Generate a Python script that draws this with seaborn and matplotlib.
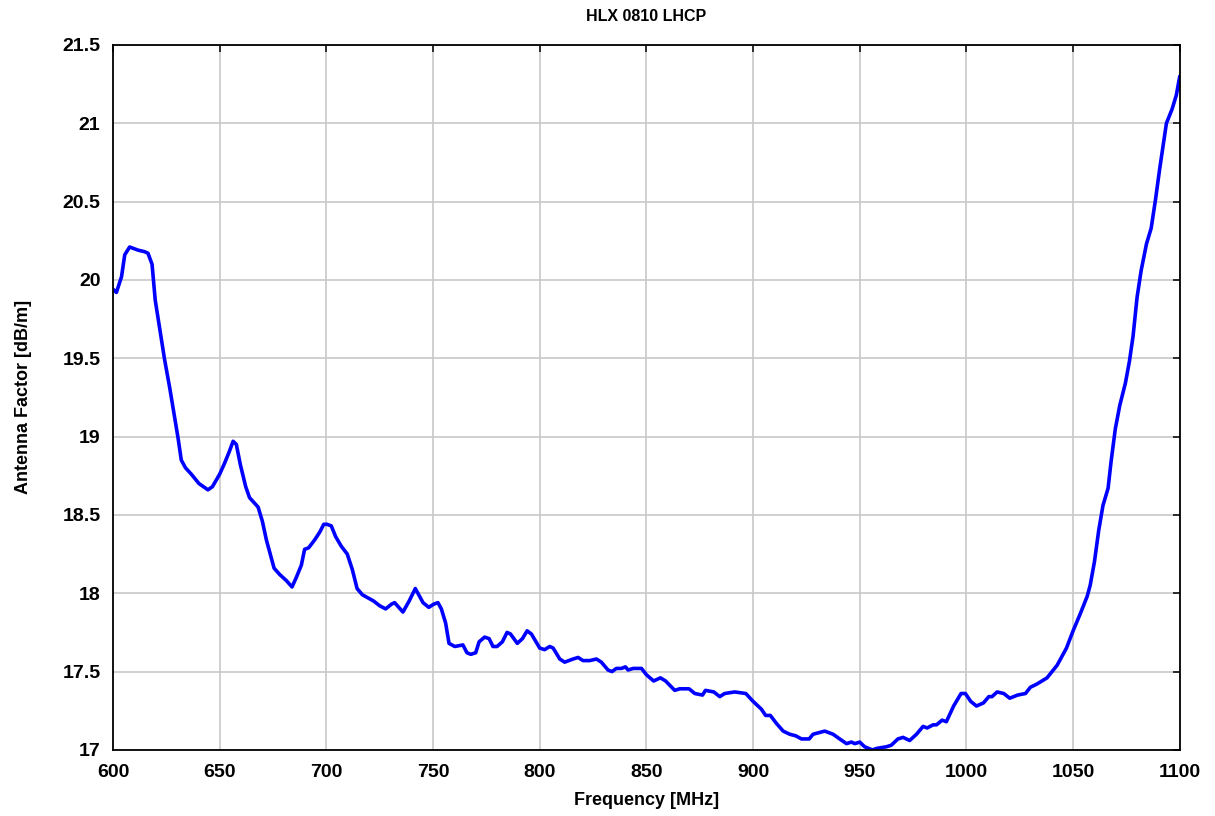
import pandas as pd
import matplotlib
matplotlib.use("Agg")
import matplotlib.pyplot as plt
import matplotlib.ticker as mticker
import seaborn as sns

# ---------------------------
# DATA
# ---------------------------
freq_mhz = [
    600, 601.6, 604, 605.5, 607.8, 611.7, 614.8, 616.4, 618.3, 619.8,
    621.9, 624.2, 626.6, 628.9, 630.5, 632, 634, 636.7, 640.3, 644.5,
    646.6, 650, 652.3, 654.4, 656.3, 657.8, 659.7, 662.2, 664, 668,
    670, 671.9, 675.5, 678.1, 681.3, 683.9, 685.9, 688.3, 689.8, 691.7,
    694.5, 696.9, 698.8, 700.3, 702.3, 704.4, 707, 709.8, 712.2, 714.4,
    716.9, 719.5, 722.2, 725, 727.8, 730.5, 732, 735.9, 738.8, 741.7,
    745.3, 748, 750.3, 752.3, 753.9, 755.9, 757.5, 760.2, 764, 765.9,
    767.7, 770, 771.6, 774.2, 776.3, 778.1, 780, 782.5, 784.7, 786.3,
    789.5, 791.9, 794.1, 796.1, 800, 802.3, 804.7, 806.3, 809.4, 811.7,
    815.6, 818, 820.3, 823.4, 826.6, 828.9, 832, 833.9, 835.9, 838.3,
    840.2, 841.4, 843.8, 847.7, 850, 853.4, 856.6, 859, 863.3, 865.6,
    870, 872.7, 876.3, 877.7, 881.6, 884.4, 886.7, 891.4, 896.6, 900,
    903.9, 905.9, 908.1, 910.9, 914.1, 917.2, 920, 922.7, 926.3, 928.1,
    933.6, 937.5, 940.6, 943.8, 946.1, 947.7, 950, 952.3, 955.9, 958.1,
    962.5, 964.8, 967.9, 970.3, 973.4, 976.6, 979.7, 981.6, 984.4, 986,
    988.6, 990.6, 994, 997.5, 999.5, 1002, 1004.7, 1008, 1010.5, 1012,
    1014.4, 1017.5, 1020.3, 1024, 1027.7, 1030, 1033, 1037.8, 1042.5, 1046.9,
    1050, 1053.4, 1056.6, 1058, 1060, 1062, 1064, 1066.4, 1067.8, 1069.8,
    1071.9, 1074.5, 1076.4, 1078.1, 1080, 1081.9, 1084.4, 1086.6, 1088.6, 1090.6,
    1093.75, 1096.4, 1098.4, 1100,
]
antenna_factor = [
    19.94, 19.92, 20.02, 20.16, 20.21, 20.19, 20.18, 20.17, 20.10, 19.87,
    19.69, 19.49, 19.31, 19.12, 18.99, 18.85, 18.80, 18.76, 18.70, 18.66,
    18.68, 18.76, 18.83, 18.90, 18.97, 18.95, 18.82, 18.68, 18.61, 18.55,
    18.46, 18.34, 18.16, 18.12, 18.08, 18.04, 18.10, 18.18, 18.28, 18.29,
    18.34, 18.39, 18.44, 18.44, 18.43, 18.36, 18.30, 18.25, 18.15, 18.03,
    17.99, 17.97, 17.95, 17.92, 17.90, 17.93, 17.94, 17.88, 17.95, 18.03,
    17.94, 17.91, 17.93, 17.94, 17.90, 17.81, 17.68, 17.66, 17.67, 17.62,
    17.61, 17.62, 17.69, 17.72, 17.71, 17.66, 17.66, 17.69, 17.75, 17.74,
    17.68, 17.71, 17.76, 17.74, 17.65, 17.64, 17.66, 17.65, 17.58, 17.56,
    17.58, 17.59, 17.57, 17.57, 17.58, 17.56, 17.51, 17.50, 17.52, 17.52,
    17.53, 17.51, 17.52, 17.52, 17.48, 17.44, 17.46, 17.44, 17.38, 17.39,
    17.39, 17.36, 17.35, 17.38, 17.37, 17.34, 17.36, 17.37, 17.36, 17.31,
    17.26, 17.22, 17.22, 17.17, 17.12, 17.10, 17.09, 17.07, 17.07, 17.10,
    17.12, 17.10, 17.07, 17.04, 17.05, 17.04, 17.05, 17.02, 17.00, 17.01,
    17.02, 17.03, 17.07, 17.08, 17.06, 17.10, 17.15, 17.14, 17.16, 17.16,
    17.19, 17.18, 17.28, 17.36, 17.36, 17.31, 17.28, 17.30, 17.34, 17.34,
    17.37, 17.36, 17.33, 17.35, 17.36, 17.40, 17.42, 17.46, 17.54, 17.65,
    17.76, 17.87, 17.98, 18.05, 18.20, 18.40, 18.56, 18.67, 18.84, 19.05,
    19.20, 19.34, 19.48, 19.64, 19.89, 20.06, 20.23, 20.33, 20.51, 20.71,
    21.00, 21.09, 21.18, 21.30,
]
x_ticks = list(range(600, 1101, 50))
y_ticks = [17, 17.5, 18, 18.5, 19, 19.5, 20, 20.5, 21, 21.5]

# ---------------------------
# PLOT
# ---------------------------
sns.set_style("whitegrid")
plt.rcParams["font.family"] = ["Liberation Sans", "DejaVu Sans"]
plt.rcParams["font.weight"] = "bold"
plt.rcParams["text.color"] = "black"
plt.rcParams["axes.labelcolor"] = "black"

df = pd.DataFrame({"Frequency": freq_mhz, "AF": antenna_factor})

fig = plt.figure(figsize=(12.15, 8.16), dpi=100)
ax = fig.add_axes([0.093, 0.081, 0.878, 0.864])

sns.lineplot(data=df, x="Frequency", y="AF", ax=ax, color="#0000ff", linewidth=2.6)

ax.set_xlim(600, 1100)
ax.set_ylim(17, 21.5)
ax.set_xticks(x_ticks)
ax.set_yticks(y_ticks)
ax.yaxis.set_major_formatter(mticker.FormatStrFormatter("%g"))
ax.grid(True, color="#c8c8c8", linewidth=1.2)
for s in ax.spines.values():
    s.set_color("black")
    s.set_linewidth(1.3)
ax.tick_params(direction="in", length=5, width=1.1, top=True, right=True,
               labelsize=14, colors="black")
ax.tick_params(axis="x", pad=10)
ax.tick_params(axis="y", pad=9)
for lbl in ax.get_xticklabels() + ax.get_yticklabels():
    lbl.set_fontweight("bold")

ax.set_xlabel("Frequency [MHz]", fontsize=13, fontweight="bold", labelpad=8)
ax.set_ylabel("Antenna Factor [dB/m]", fontsize=13, fontweight="bold", labelpad=22)
ax.set_title("HLX 0810 LHCP", fontsize=11.5, fontweight="bold", pad=17)

fig.savefig("out.png", dpi=100)
